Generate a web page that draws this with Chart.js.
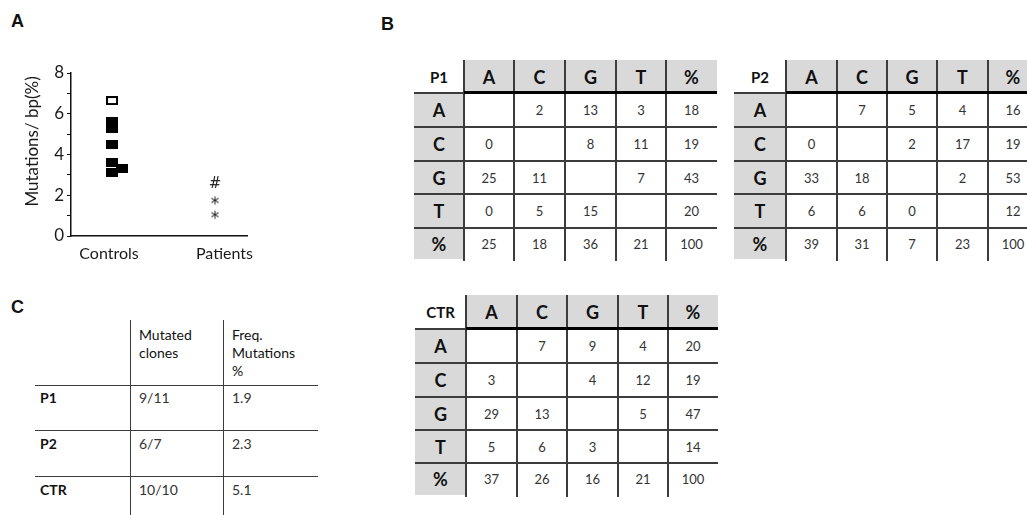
<!DOCTYPE html>
<html>
<head>
<meta charset="utf-8">
<script src="https://cdn.jsdelivr.net/npm/chart.js@4.4.0/dist/chart.umd.min.js"></script>
<style>
  html, body { margin: 0; padding: 0; background: #fff; }
  body { width: 1027px; height: 515px; position: relative; overflow: hidden;
         font-family: Lato, 'Open Sans', sans-serif; color: #111; }
  .panel-label { position: absolute; font: bold 18px 'Liberation Sans', Arial, sans-serif; color: #111; }
  #chartBox { position: absolute; left: 0; top: 0; width: 280px; height: 280px; }
  .mx { position: absolute; }
  .cell { position: absolute; display: flex; align-items: center; justify-content: center; box-sizing: border-box; }
  .gray { background: #d9d9d9; }
  .hdr { font-weight: bold; font-size: 18px; color: #111; }
  .ttl { font-weight: bold; font-size: 15px; color: #111; }
  .num { font-size: 13px; color: #333; }
  .ln { position: absolute; background: #3c3c3c; }
  .tc { position: absolute; font-size: 14px; line-height: 18px; color: #333; }
  .tc.h { color: #111; }
  .tc.b { font-weight: bold; color: #111; }
</style>
</head>
<body>
<div class="panel-label" style="left:11px;top:11px">A</div>
<div class="panel-label" style="left:381px;top:14px">B</div>
<div class="panel-label" style="left:11px;top:297px">C</div>

<div id="chartBox"><canvas id="scatter" width="280" height="280"></canvas></div>
<div id="tables"></div>

<script>
// ---- Panel A: mutation frequency per group ----
const groupLabels = ['Controls', 'Patients'];
const groupTickPos = [1.08, 4.36];

const controlsFilledX = [1.165, 1.165, 1.165, 1.165, 1.165, 1.45];
const controlsFilledY = [5.6, 5.3, 4.5, 3.6, 3.1, 3.3];
const controlsOpenX = [1.165];
const controlsOpenY = [6.65];

const patientsX = [4.09, 4.09, 4.09];
const patientsY = [2.65, 1.75, 1.05];
const patientsSymbols = ['#', '*', '*'];

const yTickValues = [0, 1, 2, 3, 4, 5, 6, 7, 8];

// ---- Panel B: substitution matrices (row = original base, column = new base) ----
const baseLabels = ['A', 'C', 'G', 'T', '%'];
const p1Matrix = [
  [null, 2, 13, 3, 18],
  [0, null, 8, 11, 19],
  [25, 11, null, 7, 43],
  [0, 5, 15, null, 20],
  [25, 18, 36, 21, 100]
];
const p2Matrix = [
  [null, 7, 5, 4, 16],
  [0, null, 2, 17, 19],
  [33, 18, null, 2, 53],
  [6, 6, 0, null, 12],
  [39, 31, 7, 23, 100]
];
const ctrMatrix = [
  [null, 7, 9, 4, 20],
  [3, null, 4, 12, 19],
  [29, 13, null, 5, 47],
  [5, 6, 3, null, 14],
  [37, 26, 16, 21, 100]
];

// ---- Panel C: summary ----
const summaryHeaders = [['Mutated', 'clones'], ['Freq.', 'Mutations', '%']];
const summaryRows = ['P1', 'P2', 'CTR'];
const summaryClones = ['9/11', '6/7', '10/10'];
const summaryFreq = ['1.9', '2.3', '5.1'];

function rectMarker(w, h, filled) {
  const c = document.createElement('canvas');
  c.width = w; c.height = h;
  const g = c.getContext('2d');
  g.fillStyle = '#000';
  g.fillRect(0, 0, w, h);
  if (!filled) { g.fillStyle = '#fff'; g.fillRect(2, 2, w - 4, h - 4); }
  return c;
}

function glyphMarker(ch) {
  const c = document.createElement('canvas');
  c.width = 18; c.height = 18;
  const g = c.getContext('2d');
  g.font = (ch === '*' ? '17px ' : '15px ') + '"DejaVu Sans", sans-serif';
  g.fillStyle = '#222';
  const m = g.measureText(ch);
  const asc = m.actualBoundingBoxAscent, desc = m.actualBoundingBoxDescent;
  g.textBaseline = 'alphabetic';
  g.textAlign = 'center';
  g.fillText(ch, 9, 9 + (asc - desc) / 2);
  return c;
}

function drawScatter() {
  const filled = rectMarker(12, 9, true);
  const open = rectMarker(12, 9, false);
  Chart.defaults.font.family = 'Lato, sans-serif';
  new Chart(document.getElementById('scatter'), {
    type: 'scatter',
    data: {
      datasets: [
        {
          label: 'Controls',
          data: controlsFilledX.map((x, i) => ({ x, y: controlsFilledY[i] })),
          pointStyle: filled, pointRadius: 6
        },
        {
          label: 'Controls (open)',
          data: controlsOpenX.map((x, i) => ({ x, y: controlsOpenY[i] })),
          pointStyle: open, pointRadius: 6
        },
        {
          label: 'Patients',
          data: patientsX.map((x, i) => ({ x, y: patientsY[i] })),
          pointStyle: patientsSymbols.map(glyphMarker), pointRadius: 6
        }
      ]
    },
    options: {
      responsive: false,
      animation: false,
      devicePixelRatio: 1,
      clip: false,
      layout: { padding: { left: 19, top: 73, right: 33, bottom: 9 } },
      plugins: { legend: { display: false }, tooltip: { enabled: false } },
      scales: {
        x: {
          type: 'linear', min: 0, max: 5,
          afterBuildTicks: s => { s.ticks = groupTickPos.map(v => ({ value: v })); },
          afterFit: s => { s.height = 35; },
          ticks: {
            callback: (v, i) => groupLabels[i],
            font: { size: 16 }, color: '#1a1a1a', padding: 8, maxRotation: 0, autoSkip: false
          },
          grid: { display: false, drawTicks: false },
          border: { display: true, color: '#111', width: 1.5 }
        },
        y: {
          min: 0, max: 8,
          afterBuildTicks: s => { s.ticks = yTickValues.map(v => ({ value: v })); },
          afterFit: s => { s.width = 52; },
          ticks: {
            callback: v => (v % 2 === 0 ? String(v) : ''),
            font: { size: 17 }, color: '#1a1a1a', padding: 3, autoSkip: false
          },
          grid: { drawOnChartArea: false, drawTicks: true, tickLength: 4, color: '#111', lineWidth: 1 },
          border: { display: true, color: '#111', width: 1.5 },
          title: { display: true, text: '      Mutations/ bp(%)', font: { size: 17 }, color: '#1a1a1a', padding: 3 }
        }
      }
    }
  });
}

function addDiv(parent, cls, x, y, w, h, text) {
  const d = document.createElement('div');
  d.className = cls;
  Object.assign(d.style, { left: x + 'px', top: y + 'px', width: w + 'px', height: h + 'px' });
  if (text !== undefined && text !== null) d.textContent = text;
  parent.appendChild(d);
  return d;
}

function buildMatrix(title, matrix, left, top, colW, rowH) {
  const root = document.getElementById('tables');
  const box = document.createElement('div');
  box.className = 'mx';
  box.style.left = left + 'px'; box.style.top = top + 'px';
  root.appendChild(box);
  const xs = [0]; colW.forEach(w => xs.push(xs[xs.length - 1] + w));
  const ys = [0]; rowH.forEach(h => ys.push(ys[ys.length - 1] + h));
  const W = xs[xs.length - 1], H = ys[ys.length - 1];
  // header row
  addDiv(box, 'cell ttl', 0, 0, colW[0], rowH[0], title);
  baseLabels.forEach((b, j) => addDiv(box, 'cell gray hdr', xs[j + 1], 0, colW[j + 1], rowH[0], b));
  // body rows
  matrix.forEach((row, i) => {
    addDiv(box, 'cell gray hdr', 0, ys[i + 1], colW[0], rowH[i + 1], baseLabels[i]);
    row.forEach((v, j) => addDiv(box, 'cell num', xs[j + 1], ys[i + 1], colW[j + 1], rowH[i + 1], v === null ? '' : String(v)));
  });
  // vertical rules between columns
  for (let j = 1; j < xs.length - 1; j++) addDiv(box, 'ln', xs[j] - 1, 0, 2, H + 2);
  // rule below header: thin under title, heavy under base letters
  addDiv(box, 'ln', 0, ys[1] - 1, xs[1], 2);
  const heavy = addDiv(box, 'ln', xs[1], ys[1] - 2, W - xs[1], 3);
  heavy.style.background = '#000';
  // rules between body rows
  for (let i = 2; i < ys.length - 1; i++) addDiv(box, 'ln', 0, ys[i] - 1, W, 2);
}

function buildSummary() {
  const root = document.getElementById('tables');
  const box = document.createElement('div');
  box.className = 'mx'; box.style.left = '0px'; box.style.top = '0px';
  root.appendChild(box);
  // rules
  [130, 223].forEach(x => addDiv(box, 'ln', x - 0.5, 320, 1.3, 195));
  [385, 430, 476].forEach(y => addDiv(box, 'ln', 35, y - 0.5, 283, 1.3));
  // header text
  const hx = [139, 232];
  summaryHeaders.forEach((lines, k) => {
    lines.forEach((t, r) => addDiv(box, 'tc h', hx[k], 326 + r * 18, 90, 18, t));
  });
  const rowY = [389, 435, 481];
  summaryRows.forEach((lab, i) => {
    addDiv(box, 'tc b', 40, rowY[i], 80, 18, lab);
    addDiv(box, 'tc', 139, rowY[i], 80, 18, summaryClones[i]);
    addDiv(box, 'tc', 232, rowY[i], 80, 18, summaryFreq[i]);
  });
}

buildMatrix('P1', p1Matrix, 414, 60, [50, 50, 51, 51, 50, 51], [33, 34, 34, 33, 34, 31]);
buildMatrix('P2', p2Matrix, 734, 60, [52, 51, 50, 50, 51, 50], [33, 34, 34, 33, 34, 31]);
buildMatrix('CTR', ctrMatrix, 415, 295, [51, 51, 50, 51, 50, 50], [34, 34, 34, 33, 33, 32]);
buildSummary();

const ready = document.fonts && document.fonts.load
  ? Promise.all([document.fonts.load('16px Lato'), document.fonts.load('15px "DejaVu Sans"')])
  : Promise.resolve();
ready.then(drawScatter, drawScatter);
</script>
</body>
</html>
